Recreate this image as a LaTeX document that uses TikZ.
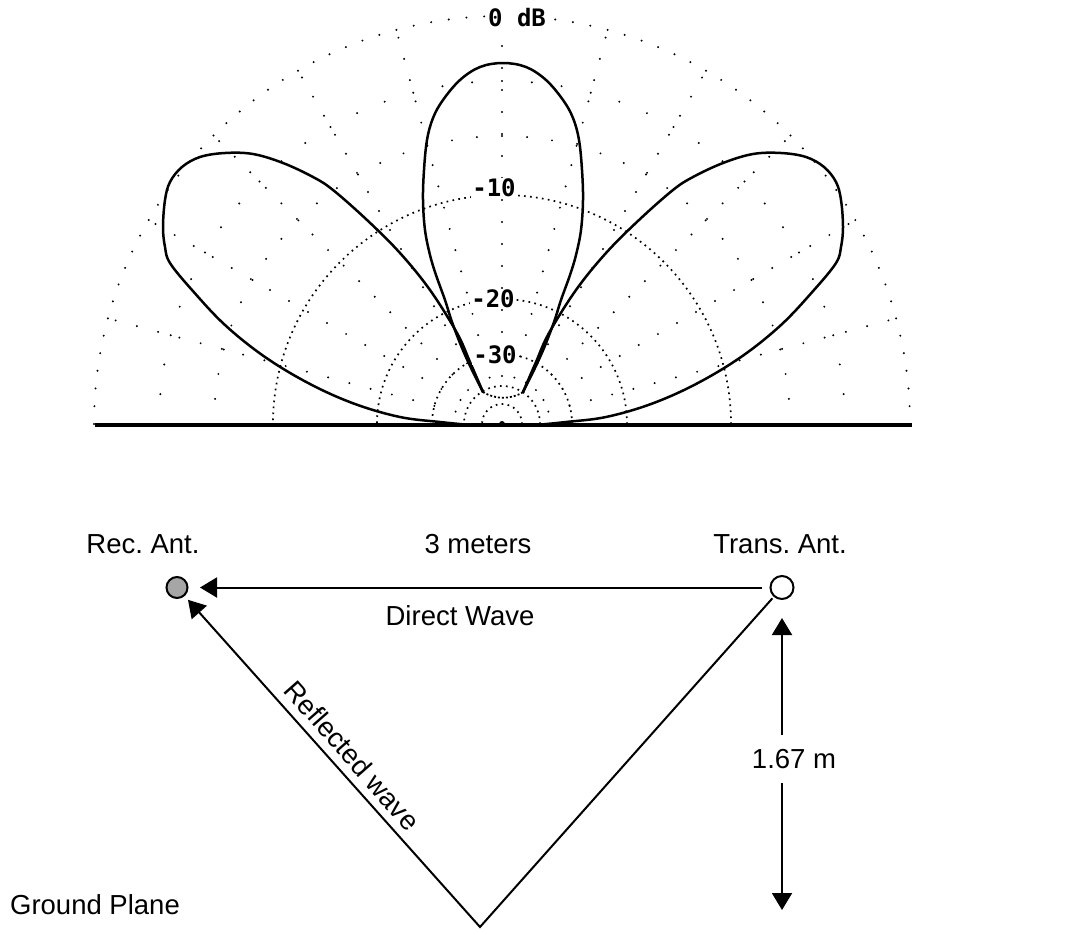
\documentclass[tikz,border=0pt]{standalone}
\usepackage{fontspec}
\setmainfont{Liberation Sans}
\newfontfamily\plotfont{DejaVu Sans Mono}
\usetikzlibrary{arrows.meta}
\frenchspacing
\begin{document}
\begin{tikzpicture}[x=1pt,y=-1pt,
  lbl/.style={font=\frenchspacing\fontsize{27.5}{32}\selectfont, inner sep=0pt, anchor=base},
  plbl/.style={font=\plotfont\bfseries\fontsize{24}{26}\selectfont, fill=white, inner sep=1pt},
  wire/.style={line width=2pt},
  arr/.style={-{Triangle[length=17pt,width=20pt]}},
  lobe/.style={line width=2.5pt, line join=round, line cap=round},
  gridc/.style={line width=1.7pt, dash pattern=on 1.7pt off 4.3pt},
  antenna/.style={circle, draw, line width=2pt, inner sep=0pt}
]
\fill[white] (0,0) rectangle (1076,930);
\useasboundingbox (0,0) rectangle (1076,930);
\def\cx{502}\def\cy{424}
% dense dotted dB circles (-10 ... -50)
\foreach \r in {229,125,70,38,20}
  \draw[gridc] ({\cx+\r},\cy) arc[start angle=0, end angle=-180, radius=\r];
% sparse outer circle (0 dB)
\foreach \a in {0,2.5,...,180}
  \fill ({\cx+408*cos(\a)},{\cy-408*sin(\a)}) circle[radius=1.1];
% sparse -3 and -6 dB circles
\foreach \r in {343,288}
  \foreach \a in {0,5,...,180}
    \fill ({\cx+\r*cos(\a)},{\cy-\r*sin(\a)}) circle[radius=1.1];
% sparse spokes
\foreach \a in {15,30,...,165}
  \foreach \r in {48,70,...,400}
    \fill ({\cx+\r*cos(\a)},{\cy-\r*sin(\a)}) circle[radius=1.1];
% ground line
\draw[line width=3.5pt] (95,425) -- (912,425);
\fill (\cx,\cy) circle[radius=3];
% lobes
\draw[lobe] plot[smooth,tension=0.6] coordinates {(483,392) (470,362) (457,333) (430,290) (400,253) (367,220) (333,190) (313,177) (283,163) (253,154) (225,153) (200,157) (182,167) (170,182) (165,200) (163,227) (165,247) (170,263) (192,290) (225,325) (265,357) (310,384) (355,404) (400,417) (440,422) (470,425)};
\draw[lobe] plot[smooth,tension=0.6] coordinates {(523,392) (536,362) (549,333) (576,290) (606,253) (639,220) (673,190) (693,177) (723,163) (753,154) (781,153) (806,157) (824,167) (836,182) (841,200) (843,227) (841,247) (836,263) (814,290) (781,325) (741,357) (696,384) (651,404) (606,417) (566,422) (536,425)};
\draw[lobe] plot[smooth,tension=0.6] coordinates {(483,392) (472,370) (462,348) (452,322) (445,300) (436,275) (430,255) (425,230) (423,200) (424,170) (427,140) (433,118) (443,100) (460,80) (480,67) (503,63) (526,67) (546,80) (563,100) (573,118) (579,140) (582,170) (583,200) (581,230) (576,255) (570,275) (561,300) (554,322) (544,348) (534,370) (523,392)};
\draw[line width=1.8pt, dash pattern=on 2pt off 2pt] (483,392) arc[start angle=122, end angle=58, radius=38];
% plot labels
\node[plbl] (l0) at (517,18) {0 dB};
\node[plbl] (l10) at (494,188) {-10};
\node[plbl] (l20) at (493,299) {-20};
\node[plbl] (l30) at (495,355) {-30};
% lower diagram
\node[antenna, fill=black!35, minimum size=21pt] (rec) at (177,587.5) {};
\node[antenna, fill=white, minimum size=23pt] (trans) at (782,587.5) {};
\coordinate (apex) at (480,927);
\draw[wire, arr, shorten <=7.5pt, shorten >=11.5pt] (trans) -- (rec);
\draw[wire, arr, shorten <=2pt, shorten >=5pt] (trans) -- (apex) -- (rec);
\node[lbl] (reclbl) at (143,553) {Rec. Ant.};
\node[lbl] (dist) at (478,553) {3 meters};
\node[lbl] (translbl) at (780,553) {Trans. Ant.};
\node[lbl] (direct) at (460,625) {Direct Wave};
\node[lbl, rotate=-48.6] (refl) at (345,762) {Reflected wave};
\node[lbl] (gp) at (95,914) {Ground Plane};
\node[lbl] (dim) at (794,768) {1.67 m};
\coordinate (dtop) at (782,618);
\coordinate (dbot) at (782,910);
\coordinate (d1) at (782,735);
\coordinate (d2) at (782,783);
\draw[wire, arr] (d1) -- (dtop);
\draw[wire, arr] (d2) -- (dbot);
\end{tikzpicture}
\end{document}
